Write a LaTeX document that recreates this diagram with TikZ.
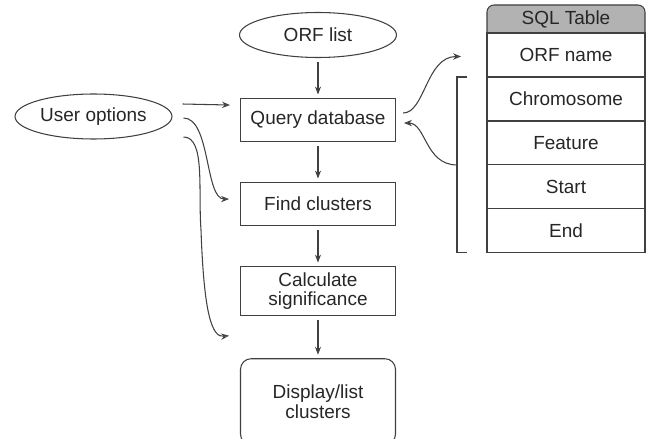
\documentclass[tikz,border=0pt]{standalone}
\usepackage{fontspec}
\setmainfont{Liberation Sans}
\usepackage{tikz}
\usetikzlibrary{arrows.meta, shapes.geometric, calc, positioning}

\begin{document}
\begin{tikzpicture}[x=0.02cm, y=-0.02cm, node distance = 8mm and 4mm,
  every node/.style={font=\fontsize{10.8}{11.2}\selectfont, text=black!85},
  box/.style={draw=black!75, line width=0.6pt, minimum width=31mm, minimum height=8.6mm, align=center},
  oval/.style={draw=black!75, line width=0.6pt, ellipse, inner sep=0pt, minimum width=31.4mm, minimum height=9mm},
  row/.style={draw=black!75, line width=0.6pt, outer sep=0pt, minimum width=31.6mm, minimum height=8.8mm},
  flow/.style={draw=black!75, line width=0.6pt, -{Stealth[length=4.5pt, width=3.4pt]}, shorten <=2pt, shorten >=2pt},
  link/.style={draw=black!75, line width=0.6pt, -{Stealth[length=4.5pt, width=3.6pt, open]}}]
\useasboundingbox (0,0) rectangle (647,439);
%
\node (orf) [oval] at (318,35) {ORF list};
\node (query) [box, below=of orf] {Query database};
\node (find) [box, below=of query] {Find clusters};
\node (calc) [box, minimum height=9mm, below=of find] {Calculate\\significance};
\node (disp) [box, rounded corners=6pt, minimum height=17.2mm, below=8.4mm of calc] {Display/list\\clusters};
\node (user) [oval] at (93.5,116.5) {User options};
%
\foreach \a/\b in {orf/query, query/find, find/calc, calc/disp}
  \draw[flow] (\a) -- (\b);
%
\filldraw[draw=black!75, fill=black!30, line width=0.6pt]
  (487,33) [rounded corners=4pt] -- (487,5) -- (645,5) [sharp corners] -- (645,33) -- cycle;
\node (sql) at (566,19) {SQL Table};
\node (r1) [row, anchor=north] at (566,33) {ORF name};
\foreach \t/\i [count=\xi from 1] in {Chromosome/2, Feature/3, Start/4, End/5}
  \node (r\i) [row, below=0pt of r\xi] {\t};
%
\coordinate (bt) at ($(r2.north west)+(-20,0)$);
\coordinate (bb) at ($(r5.south west)+(-20,0)$);
\draw[black!75, line width=0.6pt] (bt) -- ++(-10,0) -- ($(bb)+(-10,0)$) -- (bb);
\coordinate (bm) at ($(bt)!0.5!(bb)+(-10,0)$);
%
\coordinate (u1) at ($(user.east)+(10,-12.5)$);
\coordinate (u2) at ($(user.east)+(11,1.5)$);
\coordinate (u3) at ($(user.east)+(11,20.5)$);
\coordinate (q1) at ($(query.west)+(-10,-15)$);
\coordinate (f1) at ($(find.west)+(-11,-5)$);
\coordinate (d1) at ($(disp.north west)+(-11,-22.5)$);
\draw[link] (u1) -- (q1);
\draw[link] (u2) .. controls +(27,0) and +(-24,0) .. (f1);
\draw[link] (u3) .. controls +(22,0) and +(-3,-40) .. (201,230) .. controls +(3,85) and +(-17,2) .. (d1);
%
\coordinate (q2) at ($(query.east)+(7,-7)$);
\coordinate (q3) at ($(query.east)+(8,3)$);
\coordinate (o1) at ($(r1.west)+(-26,1.5)$);
\draw[link] (q2) .. controls +(22,0) and +(-35,0) .. (o1);
\draw[link] (bm) .. controls +(-32,0) and +(22,0) .. (q3);
\end{tikzpicture}
\end{document}
